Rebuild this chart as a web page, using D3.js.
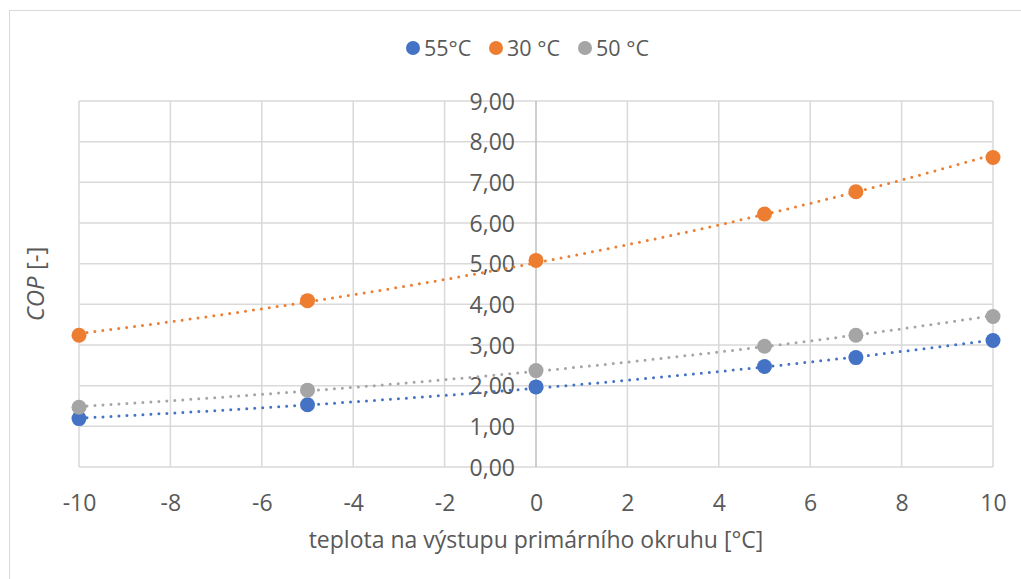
<!DOCTYPE html>
<html><head><meta charset="utf-8">
<script src="https://cdnjs.cloudflare.com/ajax/libs/d3/7.8.5/d3.min.js"></script>
<style>
html,body{margin:0;padding:0;background:#fff;}
svg{display:block;}
text{font-family:"Open Sans",sans-serif;fill:#595959;}
</style></head>
<body>
<svg id="chart" width="1021" height="579"></svg>
<script>
const xValues = [-10, -5, 0, 5, 7, 10];
const seriesNames = ["55°C", "30 °C", "50 °C"];
const series55 = [1.19, 1.53, 1.97, 2.47, 2.69, 3.11];
const series30 = [3.24, 4.09, 5.08, 6.22, 6.77, 7.61];
const series50 = [1.47, 1.89, 2.37, 2.97, 3.24, 3.70];
const seriesColors = ["#4472C4", "#ED7D31", "#A5A5A5"];
const xTicks = [-10, -8, -6, -4, -2, 0, 2, 4, 6, 8, 10];
const yTicks = [0, 1, 2, 3, 4, 5, 6, 7, 8, 9];
const xTitle = "teplota na výstupu primárního okruhu [°C]";

const allSeries = [series55, series30, series50];
const svg = d3.select("#chart");
const FONT = "'Open Sans', sans-serif";

svg.append("rect").attr("x", 9.5).attr("y", 10.5).attr("width", 1100).attr("height", 700)
  .attr("fill", "none").attr("stroke", "#D9D9D9").attr("stroke-width", 1);

const x = d3.scaleLinear().domain([-10, 10]).range([79, 993]);
const y = d3.scaleLinear().domain([0, 9]).range([467, 101]);

const grid = svg.append("g");
grid.selectAll("line.h").data(yTicks).join("line")
  .attr("x1", x(-10)).attr("x2", x(10))
  .attr("y1", d => y(d)).attr("y2", d => y(d))
  .attr("stroke", "#D9D9D9").attr("stroke-width", 1.5);
grid.selectAll("line.v").data(xTicks.filter(d => d !== 0)).join("line")
  .attr("x1", d => x(d)).attr("x2", d => x(d))
  .attr("y1", y(0)).attr("y2", y(9))
  .attr("stroke", "#D9D9D9").attr("stroke-width", 1.5);
svg.append("line").attr("x1", x(0)).attr("x2", x(0)).attr("y1", y(0)).attr("y2", y(9))
  .attr("stroke", "#BFBFBF").attr("stroke-width", 1.5);

const yAxis = d3.axisLeft(y).tickValues(yTicks).tickSize(0).tickPadding(0)
  .tickFormat(d => d3.format(".2f")(d).replace(".", ","));
const gy = svg.append("g").attr("transform", `translate(${x(0) - 21},0)`).call(yAxis);
gy.select(".domain").remove();
gy.selectAll("text").style("font-size", "23px").attr("fill", "#595959")
  .style("font-family", FONT).attr("dy", "0.36em");

const xAxis = d3.axisBottom(x).tickValues(xTicks).tickSize(0).tickPadding(0)
  .tickFormat(d => d3.format("d")(d).replace("−", "-"));
const gx = svg.append("g").attr("transform", `translate(0,${y(0) + 36})`).call(xAxis);
gx.select(".domain").remove();
gx.selectAll("text").style("font-size", "23px").attr("fill", "#595959")
  .style("font-family", FONT).attr("dy", "0.36em");

function expFit(xs, ys) {
  const n = xs.length;
  const ly = ys.map(Math.log);
  const mx = d3.mean(xs), my = d3.mean(ly);
  let sxy = 0, sxx = 0;
  for (let i = 0; i < n; i++) { sxy += (xs[i] - mx) * (ly[i] - my); sxx += (xs[i] - mx) ** 2; }
  const b = sxy / sxx, a = Math.exp(my - b * mx);
  return t => a * Math.exp(b * t);
}
const line = d3.line().x(d => x(d[0])).y(d => y(d[1]));
const samples = d3.range(-10, 10.001, 0.25);

allSeries.forEach((vals, i) => {
  const f = expFit(xValues, vals);
  svg.append("path").datum(samples.map(t => [t, f(t)]))
    .attr("d", line).attr("fill", "none")
    .attr("stroke", seriesColors[i]).attr("stroke-width", 3)
    .attr("stroke-linecap", "round").attr("stroke-dasharray", "0 8");
});
allSeries.forEach((vals, i) => {
  svg.append("g").selectAll("circle").data(vals).join("circle")
    .attr("cx", (d, j) => x(xValues[j])).attr("cy", d => y(d))
    .attr("r", 7.5).attr("fill", seriesColors[i]);
});

const legendX = [413, 496, 585];
const lg = svg.append("g");
seriesNames.forEach((name, i) => {
  lg.append("circle").attr("cx", legendX[i]).attr("cy", 48).attr("r", 7).attr("fill", seriesColors[i]);
  lg.append("text").attr("x", legendX[i] + 11).attr("y", 48).attr("dy", "0.36em")
    .style("font-size", "21.5px").text(name);
});

svg.append("text").attr("x", (x(-10) + x(10)) / 2).attr("y", 540).attr("dy", "0.36em")
  .attr("text-anchor", "middle").style("font-size", "23px").text(xTitle);
const yt = svg.append("text").attr("transform", `translate(35,${(y(0) + y(9)) / 2}) rotate(-90)`)
  .attr("text-anchor", "middle").attr("dy", "0.36em").style("font-size", "24px");
yt.append("tspan").style("font-style", "italic").text("COP");
yt.append("tspan").text(" [-]");
</script>
</body></html>
